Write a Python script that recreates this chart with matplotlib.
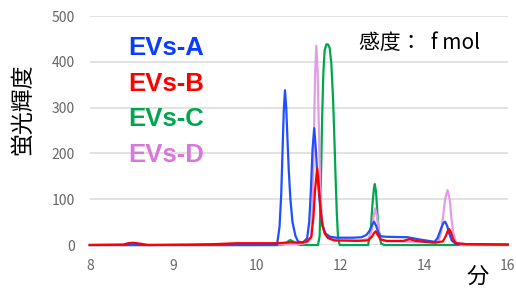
import numpy as np
import matplotlib.pyplot as plt

plt.rcParams['font.family'] = ['Noto Sans CJK JP', 'DejaVu Sans']

# axis tick labels (unevenly spaced minutes drawn at equal spacing)
x_ticks = [8, 9, 10, 12, 14, 16]
y_ticks = [0, 100, 200, 300, 400, 500]

# EVs-A (blue)
t_a = [8.0, 10.0, 10.48, 10.54, 10.58, 10.61, 10.64, 10.67, 10.70, 10.73, 10.76, 10.80, 10.85,
       10.92, 10.98, 11.10, 11.20, 11.25, 11.29, 11.33, 11.37, 11.40, 11.44, 11.48, 11.52, 11.57,
       11.64, 11.75, 11.90, 12.30, 12.50, 12.62, 12.70, 12.76, 12.80, 12.85, 12.90, 12.96, 13.10,
       13.60, 13.90, 14.25, 14.32, 14.40, 14.46, 14.50, 14.55, 14.60, 14.66, 14.75, 15.0, 16.0]
v_a = [0, 0, 0, 40, 110, 200, 290, 338, 300, 230, 165, 100, 50,
       20, 8, 5, 15, 50, 120, 210, 255, 220, 160, 115, 75, 42,
       25, 18, 16, 16, 17, 22, 32, 45, 51, 42, 28, 19, 18,
       17, 12, 7, 15, 35, 48, 51, 42, 25, 10, 3, 2, 1]

# EVs-B (red)
t_b = [8.0, 8.40, 8.46, 8.52, 8.60, 8.70, 9.20, 9.50, 9.76, 10.50, 10.80, 11.00, 11.20, 11.30,
       11.35, 11.39, 11.44, 11.48, 11.52, 11.56, 11.62, 11.70, 11.85, 12.40, 12.65, 12.75, 12.80,
       12.84, 12.89, 12.96, 13.10, 13.50, 13.65, 13.80, 14.25, 14.45, 14.52, 14.57, 14.60, 14.64,
       14.69, 14.75, 15.0, 16.0]
v_b = [0, 1, 4, 5, 3, 0, 1, 2, 4, 4, 6, 5, 8, 18,
       60, 120, 168, 130, 80, 45, 25, 15, 10, 9, 10, 18, 26,
       30, 22, 12, 9, 9, 13, 9, 5, 8, 20, 32, 35, 28,
       14, 4, 2, 1]

# EVs-C (green)
t_c = [8.0, 10.60, 10.70, 10.76, 10.80, 10.86, 10.95, 11.05, 11.46, 11.50, 11.53, 11.56, 11.59,
       11.62, 11.66, 11.70, 11.74, 11.78, 11.82, 11.85, 11.88, 11.91, 11.94, 11.98, 12.66, 12.72,
       12.76, 12.80, 12.82, 12.85, 12.88, 12.92, 12.97, 13.05, 16.0]
v_c = [0, 0, 4, 9, 11, 8, 2, 0, 0, 20, 140, 280, 380,
       425, 438, 438, 430, 395, 320, 240, 150, 70, 15, 0, 0, 30,
       85, 125, 133, 115, 70, 25, 3, 0, 0]

# EVs-D (pink)
t_d = [8.0, 10.0, 11.0, 11.20, 11.30, 11.33, 11.36, 11.39, 11.42, 11.45, 11.48, 11.51, 11.55,
       11.60, 11.70, 11.85, 12.50, 12.68, 12.75, 12.80, 12.83, 12.87, 12.92, 12.98, 13.10, 14.00,
       14.33, 14.40, 14.45, 14.50, 14.56, 14.61, 14.65, 14.70, 14.77, 14.90, 16.0]
v_d = [0, 0, 2, 5, 15, 80, 220, 370, 435, 380, 260, 140, 60,
       32, 18, 12, 10, 14, 35, 68, 80, 62, 30, 12, 8, 7,
       6, 25, 60, 100, 120, 100, 60, 25, 5, 0, 0]

labels = ['EVs-A', 'EVs-B', 'EVs-C', 'EVs-D']
line_colors = {'EVs-A': '#1f4fff', 'EVs-B': '#ff0000', 'EVs-C': '#00a64f', 'EVs-D': '#e49ce4'}
text_colors = {'EVs-A': '#0a3cff', 'EVs-B': '#ff0000', 'EVs-C': '#00a64f', 'EVs-D': '#d878d8'}
series = {'EVs-A': (t_a, v_a), 'EVs-B': (t_b, v_b), 'EVs-C': (t_c, v_c), 'EVs-D': (t_d, v_d)}

# equal spacing between tick labels
pos = np.arange(len(x_ticks))
def fwd(x):
    return np.interp(x, x_ticks, pos)
def inv(p):
    return np.interp(p, pos, x_ticks)

fig = plt.figure(figsize=(5.16, 2.91), dpi=100)
ax = fig.add_axes([0.174, 0.158, 0.81, 0.787])
ax.set_xscale('function', functions=(fwd, inv))

for name in ['EVs-C', 'EVs-D', 'EVs-A', 'EVs-B']:
    t, v = series[name]
    ax.plot(t, v, color=line_colors[name], lw=1.6, clip_on=False, zorder=3,
            solid_joinstyle='round')

ax.set_xlim(8, 16)
ax.set_ylim(0, 500)
ax.set_xticks(x_ticks)
ax.set_xticklabels([str(x) for x in x_ticks])
ax.set_yticks(y_ticks)
ax.grid(axis='y', color='#dddddd', lw=1.2)
ax.grid(axis='x', visible=False)
for s in ax.spines.values():
    s.set_visible(False)
ax.tick_params(length=0, colors='#666666', labelsize=10)
ax.tick_params(axis='y', pad=11)
ax.tick_params(axis='x', pad=10)

for i, name in enumerate(labels):
    fig.text(0.248, 0.835 - i * 0.122, name, color=text_colors[name], fontsize=18.5,
             fontweight='bold', va='center', ha='left', family=['Liberation Sans', 'DejaVu Sans'])

fig.text(0.044, 0.625, '蛍光輝度', rotation=90, fontsize=16.5, va='center', ha='center')
fig.text(0.926, 0.05, '分', fontsize=16, va='center', ha='center')
fig.text(0.696, 0.852, '感度：  f mol', fontsize=15, va='center', ha='left')

fig.savefig('out.png', dpi=100)
